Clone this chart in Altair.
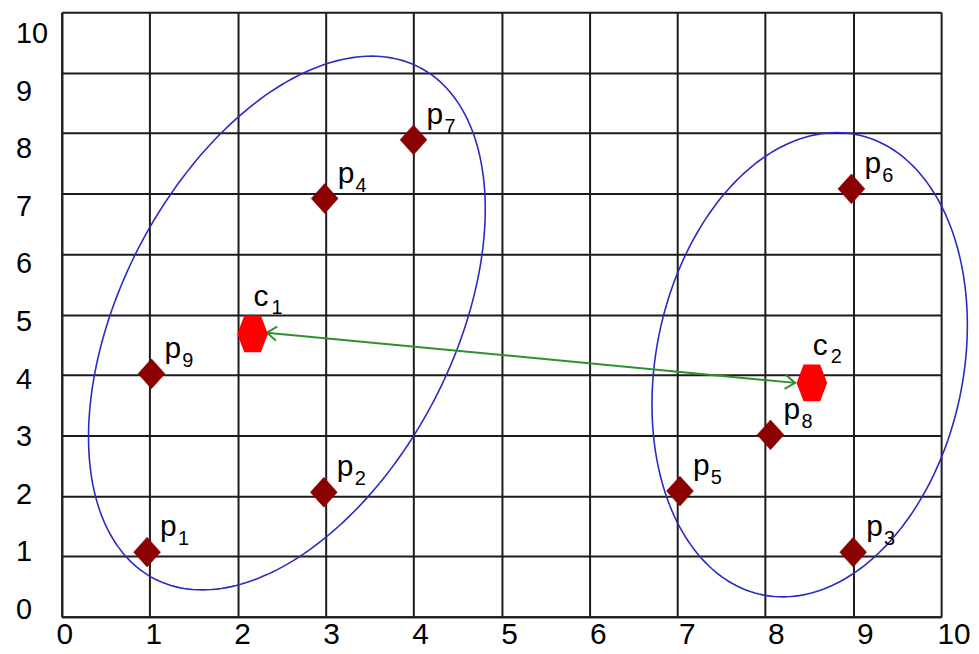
import altair as alt
import numpy as np
import pandas as pd

# ---------------- data ----------------
p_ids = ["1", "2", "3", "4", "5", "6", "7", "8", "9"]
p_x = [0.97, 2.98, 9.0, 2.99, 7.03, 8.98, 4.0, 8.06, 1.02]
p_y = [1.07, 2.06, 1.07, 6.92, 2.08, 7.08, 7.89, 3.01, 4.02]

c_ids = ["1", "2"]
c_x = [2.17, 8.53]
c_y = [4.68, 3.87]

# arrow between the two centroids (tips), and its screen angle in degrees
arrow_x = [2.33, 8.34]
arrow_y = [4.70, 3.87]
arrow_angle = 5.4

# cluster ellipses: centre, conjugate semi-diameters (u, v) in data units
ell_cx = [2.56, 8.505]
ell_cy = [4.86, 4.17]
ell_ux = [0.963, 0.306]
ell_uy = [4.415, 3.84]
ell_vx = [2.04, 1.767]
ell_vy = [0.0, 0.0]

ticks = list(range(11))

# ---------------- tables ----------------
pts = pd.DataFrame({"id": p_ids, "x": p_x, "y": p_y, "p": ["p"] * len(p_ids)})
cen = pd.DataFrame({"id": c_ids, "x": c_x, "y": c_y, "c": ["c"] * len(c_ids)})
arr = pd.DataFrame({"x": arrow_x, "y": arrow_y, "end": ["left", "right"]})

t = np.linspace(0, 2 * np.pi, 241)
rows = []
for k in range(len(ell_cx)):
    ex = ell_cx[k] + ell_ux[k] * np.cos(t) + ell_vx[k] * np.sin(t)
    ey = ell_cy[k] + ell_uy[k] * np.cos(t) + ell_vy[k] * np.sin(t)
    for i in range(len(t)):
        rows.append({"ell": k, "i": i, "x": ex[i], "y": ey[i]})
ell = pd.DataFrame(rows)
tick_df = pd.DataFrame({"v": ticks, "lab": [str(v) for v in ticks]})

FONT = "Liberation Sans"
INK = "#1c1c1c"
W, H = 883, 607

xs = alt.Scale(domain=[0, 10], nice=False, zero=False)
ys = alt.Scale(domain=[0, 10], nice=False, zero=False)

grid_axis = alt.Axis(values=ticks, grid=True, gridColor=INK, gridWidth=2,
                     gridOpacity=1, labels=False, ticks=False, domain=True,
                     domainColor=INK, domainWidth=2, title=None)

X = alt.X("x:Q", scale=xs, axis=grid_axis)
Y = alt.Y("y:Q", scale=ys, axis=grid_axis)

grid = alt.Chart(pts).mark_point(opacity=0).encode(x=X, y=Y)

ellipses = alt.Chart(ell).mark_line(color="#2a2ac4", strokeWidth=1.6).encode(
    x=X, y=Y, detail="ell:N", order="i:Q",
)

GREEN = "#2f8f2f"
arrow_line = alt.Chart(arr).mark_line(color=GREEN, strokeWidth=2).encode(x=X, y=Y)
head_left = alt.Chart(arr).transform_filter(alt.datum.end == "left").mark_point(
    shape="M1,-0.7 L0,0 L1,0.7", filled=False, stroke=GREEN, strokeWidth=2,
    size=400, opacity=1, angle=arrow_angle,
).encode(x=X, y=Y)
head_right = alt.Chart(arr).transform_filter(alt.datum.end == "right").mark_point(
    shape="M-1,-0.7 L0,0 L-1,0.7", filled=False, stroke=GREEN, strokeWidth=2,
    size=400, opacity=1, angle=arrow_angle,
).encode(x=X, y=Y)

diamonds = alt.Chart(pts).mark_point(
    shape="M0,-1 L0.9,0 L0,1 L-0.9,0 Z", filled=True, fill="#8b0000",
    stroke="#7a0000", strokeWidth=0.5, size=900, opacity=1,
).encode(x=X, y=Y)

hexes = alt.Chart(cen).mark_point(
    shape="M-0.83,0 L-0.45,-1 L0.45,-1 L0.83,0 L0.45,1 L-0.45,1 Z",
    filled=True, fill="#ff0000", size=1369, opacity=1,
).encode(x=X, y=Y)

p_main = alt.Chart(pts).mark_text(
    align="left", baseline="alphabetic", dx=13, dy=-16, fontSize=30,
    font=FONT, color="black",
).encode(x=X, y=Y, text="p:N")
p_sub = alt.Chart(pts).mark_text(
    align="left", baseline="alphabetic", dx=31, dy=-7, fontSize=20,
    font=FONT, color="black",
).encode(x=X, y=Y, text="id:N")
c_main = alt.Chart(cen).mark_text(
    align="left", baseline="alphabetic", dx=1, dy=-28, fontSize=30,
    font=FONT, color="black",
).encode(x=X, y=Y, text="c:N")
c_sub = alt.Chart(cen).mark_text(
    align="left", baseline="alphabetic", dx=19, dy=-20, fontSize=20,
    font=FONT, color="black",
).encode(x=X, y=Y, text="id:N")

main = alt.layer(grid, ellipses, arrow_line, head_left, head_right,
                 diamonds, hexes, p_main, p_sub, c_main, c_sub)

# tick labels (set on their own, slightly different spacing than the grid)
ylabels = alt.Chart(tick_df).mark_text(
    align="left", baseline="alphabetic", fontSize=29, font=FONT, color="black",
).encode(
    x=alt.value(-46),
    y=alt.Y("v:Q", scale=alt.Scale(domain=[0.0346, 10.537], nice=False, zero=False), axis=None),
    text="lab:N",
)
xlabels = alt.Chart(tick_df).mark_text(
    align="center", baseline="alphabetic", fontSize=30, font=FONT, color="black",
).encode(
    x=alt.X("v:Q", scale=alt.Scale(domain=[-0.0336, 9.854], nice=False, zero=False), axis=None),
    y=alt.value(H + 27),
    text="lab:N",
)

chart = alt.layer(main, ylabels, xlabels).resolve_scale(
    x="independent", y="independent"
).properties(
    width=W, height=H, autosize="none",
    padding={"left": 54, "top": 3, "right": 30, "bottom": 36},
).configure_view(stroke=INK, strokeWidth=2).configure(background="white")

chart.save("out.html", embed_options={"renderer": "svg", "actions": False})
